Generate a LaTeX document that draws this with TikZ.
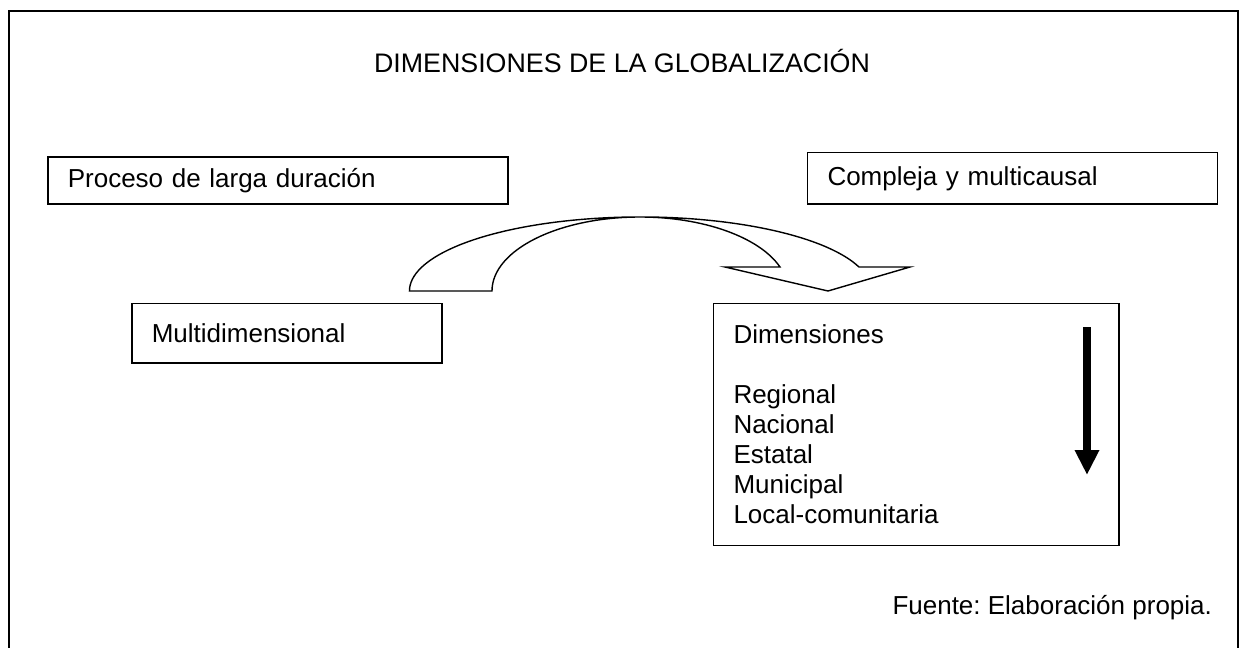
\documentclass[tikz,border=0pt]{standalone}
\usepackage{fontspec}
\setmainfont{Liberation Sans}
\frenchspacing
\usetikzlibrary{arrows.meta}
\begin{document}
\begin{tikzpicture}[x=0.5pt,y=-0.5pt,
    every node/.style={font=\fontsize{13}{15}\selectfont},
    box/.style={draw,line width=0.8pt,anchor=north west,inner xsep=10pt,align=left}]
    \useasboundingbox (0,0) rectangle (1244,648);
    \draw[line width=1pt] (8.5,660) -- (8.5,11) -- (1238,11) -- (1238,660);

    \node[anchor=base,font=\fontsize{13.4}{15}\selectfont] (titulo) at (622,72) {DIMENSIONES DE LA GLOBALIZACIÓN};
    \node[box,text width=210pt,minimum height=23.5pt] (proceso) at (47,156) {Proceso de larga duración};
    \node[box,text width=185pt,minimum height=25.8pt] (compleja) at (806.7,151.7) {Compleja y multicausal};
    \node[box,text width=135pt,minimum height=29.7pt] (multi) at (131,302.7) {Multidimensional};
    \node[box,text width=182.7pt,minimum height=121pt] (dimens) at (712.7,302.7)
        {Dimensiones\\[15pt]Regional\\Nacional\\Estatal\\Municipal\\Local-comunitaria};
    \node[anchor=base east] (fuente) at (1219,614) {Fuente: Elaboración propia.};

    % flecha curva
    \draw[line width=0.7pt] (409.5,291) -- (492,291)
        arc[start angle=180,end angle=18.9,x radius=74pt,y radius=37pt]
        -- (725,267) -- (828,291) -- (910,267) -- (859,267)
        arc[start angle=18.9,end angle=180,x radius=115.5pt,y radius=37pt] -- cycle;

    \coordinate (bajaA) at (1087,327);
    \coordinate (bajaB) at (1087,475);
    \draw[line width=4pt,-{Triangle[width=11.5pt,length=12.5pt]}] (bajaA) -- (bajaB);
\end{tikzpicture}
\end{document}
